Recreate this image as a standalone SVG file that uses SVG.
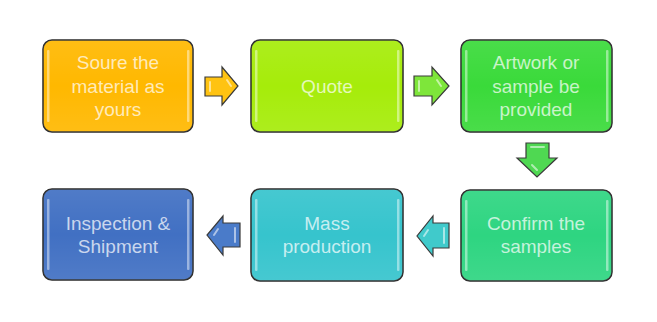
<svg xmlns="http://www.w3.org/2000/svg" width="657" height="322" viewBox="0 0 657 322">
<style>
.box{stroke:#2a2a2a;stroke-width:1.5}
.hl{fill:#ffffff;opacity:0.45}
.lbl{font-family:"Liberation Sans",Arial,sans-serif;font-size:19px;fill:#ffffff;fill-opacity:0.72;text-anchor:middle}
.arr{stroke:#3a3a3a;stroke-width:1.2;stroke-linejoin:miter}
.ahl{fill:none;stroke:#ffffff;stroke-width:2;stroke-linecap:round;opacity:0.55}
</style>
<defs>
<linearGradient id="gloss" x1="0" y1="0" x2="0" y2="1">
<stop offset="0" stop-color="#ffffff" stop-opacity="0.08"/>
<stop offset="0.5" stop-color="#ffffff" stop-opacity="0"/>
<stop offset="1" stop-color="#ffffff" stop-opacity="0.08"/>
</linearGradient>
</defs>
<rect width="657" height="322" fill="#ffffff"/>

<g id="n1">
<rect class="box" x="43" y="40" width="150" height="92" rx="9" fill="#FFB800"/>
<rect x="43" y="40" width="150" height="92" rx="9" fill="url(#gloss)"/>
<rect class="hl" x="47" y="50" width="2.5" height="72" rx="1"/>
<rect class="hl" x="187" y="50" width="2.5" height="72" rx="1"/>
<text class="lbl" x="118" y="69">Soure the</text>
<text class="lbl" x="118" y="93">material as</text>
<text class="lbl" x="118" y="116">yours</text>
</g>

<g id="n2">
<rect class="box" x="251" y="40" width="152" height="92" rx="9" fill="#A6EC0A"/>
<rect x="251" y="40" width="152" height="92" rx="9" fill="url(#gloss)"/>
<rect class="hl" x="255" y="50" width="2.5" height="72" rx="1"/>
<rect class="hl" x="397" y="50" width="2.5" height="72" rx="1"/>
<text class="lbl" x="327" y="93">Quote</text>
</g>

<g id="n3">
<rect class="box" x="461" y="40" width="151" height="92" rx="9" fill="#3ADA3A"/>
<rect x="461" y="40" width="151" height="92" rx="9" fill="url(#gloss)"/>
<rect class="hl" x="465" y="50" width="2.5" height="72" rx="1"/>
<rect class="hl" x="606" y="50" width="2.5" height="72" rx="1"/>
<text class="lbl" x="536" y="69">Artwork or</text>
<text class="lbl" x="536" y="93">sample be</text>
<text class="lbl" x="536" y="116">provided</text>
</g>

<g id="n4">
<rect class="box" x="461" y="190" width="151" height="91" rx="9" fill="#2ED581"/>
<rect x="461" y="190" width="151" height="91" rx="9" fill="url(#gloss)"/>
<rect class="hl" x="465" y="200" width="2.5" height="71" rx="1"/>
<rect class="hl" x="606" y="200" width="2.5" height="71" rx="1"/>
<text class="lbl" x="536" y="230">Confirm the</text>
<text class="lbl" x="536" y="253">samples</text>
</g>

<g id="n5">
<rect class="box" x="251" y="189" width="152" height="92" rx="9" fill="#36C4CD"/>
<rect x="251" y="189" width="152" height="92" rx="9" fill="url(#gloss)"/>
<rect class="hl" x="255" y="199" width="2.5" height="72" rx="1"/>
<rect class="hl" x="397" y="199" width="2.5" height="72" rx="1"/>
<text class="lbl" x="327" y="230">Mass</text>
<text class="lbl" x="327" y="253">production</text>
</g>

<g id="n6">
<rect class="box" x="43" y="189" width="150" height="91" rx="9" fill="#4170C3"/>
<rect x="43" y="189" width="150" height="91" rx="9" fill="url(#gloss)"/>
<rect class="hl" x="47" y="199" width="2.5" height="71" rx="1"/>
<rect class="hl" x="187" y="199" width="2.5" height="71" rx="1"/>
<text class="lbl" x="118" y="230">Inspection &amp;</text>
<text class="lbl" x="118" y="253">Shipment</text>
</g>

<g id="connectors">
<path class="arr" d="M205,77 H222 V67 L238,86 L222,105 V96 H205 Z" fill="#FFC312"/>
<path class="ahl" d="M210,82 V91 M227,80 L231,86"/>
<path class="arr" d="M414,76 H432 V67 L449,86 L432,105 V96 H414 Z" fill="#7EE63A"/>
<path class="ahl" d="M419,81 V91 M437,80 L441,86"/>
<path class="arr" d="M526,143 H549 V158 H557 L537,177 L517,158 H526 Z" fill="#4FD852"/>
<path class="ahl" d="M531,147 H544 M532,165 L537,170"/>
<path class="arr" d="M449,223 H433 V216 L417,236 L433,256 V248 H449 Z" fill="#40CACB"/>
<path class="ahl" d="M444,228 V243 M428,230 L424,236"/>
<path class="arr" d="M240,223 H223 V216 L207,235 L223,255 V247 H240 Z" fill="#4A7BC9"/>
<path class="ahl" d="M235,228 V242 M218,229 L214,235"/>
</g>
</svg>
